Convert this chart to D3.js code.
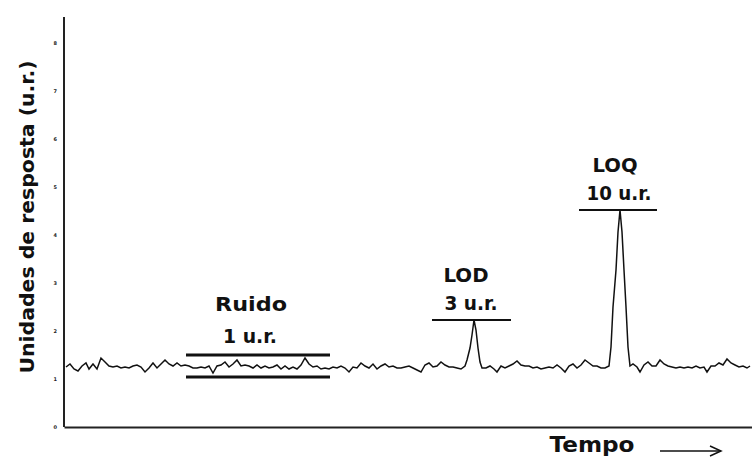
<!DOCTYPE html>
<html><head><meta charset="utf-8">
<script src="https://cdn.jsdelivr.net/npm/d3@7"></script>
<style>html,body{margin:0;padding:0;background:#fff;}svg{display:block;}</style>
</head><body>
<svg id="chart" width="752" height="459"></svg>
<script>
// ---- data (time in arbitrary units, signal in arbitrary response units) ----
const trace = [
[2,60],[6,63],[10,58],[14,56],[18,61],[22,64],[25,58],[29,63],[33,58],[37,69],[41,65],[45,61],[49,60],[53,61],[57,59],[61,60],[65,59],[69,61],[73,62],[77,60],[81,55],[85,59],[89,64],[93,59],[97,63],[101,67],[105,63],[109,61],[113,64],[117,61],[121,62],
[125,61],[129,59],[133,59],[137,60],[141,59],[145,61],[149,54],[153,61],[157,62],[161,65],[165,60],[169,63],[173,67],[177,61],[181,62],[185,61],[189,59],[193,62],[197,59],[201,61],[205,59],[209,60],[213,62],[217,58],[221,61],[225,58],[229,60],[233,58],[237,62],[241,69],[245,63],[249,60],[253,61],[257,58],[261,59],[265,58],
[269,60],[273,59],[277,61],[281,59],[285,55],[289,60],[293,59],[297,64],[301,61],[305,59],[309,63],[313,58],[317,61],[321,63],[325,60],[329,61],[333,59],[337,59],[341,60],[345,61],[349,59],[353,57],[357,55],[361,62],[365,64],[369,60],[373,61],[377,65],[381,62],[385,60],[389,60],[393,59],[397,58],[401,61],
[403,67],[406,79],[408,92],[410,107],[412,97],[414,79],[416,65],[418,59],
[422,59],[426,61],[430,58],[433,55],[437,61],[441,59],[445,61],[449,63],[453,66],[457,62],[461,61],[465,61],[469,59],[473,60],[477,58],[481,59],[485,60],[489,59],[493,62],[497,59],[501,55],[505,61],[509,63],[513,59],[517,62],[521,67],[525,64],[529,61],[533,61],[537,59],[541,59],[545,61],
[547,80],[549,120],[552,157],[554,195],[556,217],[558,195],[560,157],[562,120],[564,80],[566,61],
[569,63],[573,60],[576,55],[580,62],[584,65],[588,61],[592,61],[596,67],[600,63],[604,61],[608,60],[612,59],[616,60],[620,59],[624,60],[628,59],[632,61],[636,59],[640,60],[643,55],[647,61],[651,61],[655,64],[659,62],[663,68],[667,64],[671,62],[675,60],[679,61],[683,59],[686,61]
];
// horizontal reference bars: [tStart, tEnd, level]
const noiseBand = [[122,266,72],[122,266,50]];
const lodBar = [[368,447,107]];
const loqBar = [[515,593,217]];
// annotation texts: [text, t, s]
const annotations = [
  ["Ruido",187,116],["1 u.r.",186,84],
  ["LOD",402,145],["3 u.r.",407,117],
  ["LOQ",551,255],["10 u.r.",555,227]
];
const yTickValues = [0,48,96,144,192,240,288,336,384];
const yTickLabels = ["0","1","2","3","4","5","6","7","8"];
const yTitle = "Unidades de resposta (u.r.)";
const xTitle = "Tempo";
const annotationWidths = {"Ruido":72,"1 u.r.":54,"LOD":45,"3 u.r.":53,"LOQ":45,"10 u.r.":65};

// ---- drawing ----
const svg = d3.select("#chart");
const x = d3.scaleLinear().domain([0,688]).range([64,752]);
const y = d3.scaleLinear().domain([0,410]).range([427,17]);
const FONT = "'DejaVu Sans', Verdana, sans-serif";

// y axis
const yAxis = d3.axisLeft(y).tickValues(yTickValues).tickSize(0).tickPadding(7)
  .tickFormat((d,i)=>yTickLabels[i]);
const gy = svg.append("g").attr("transform","translate(64,0)").call(yAxis);
gy.select(".domain").remove();
gy.selectAll("text").attr("font-size",5).attr("font-family",FONT).attr("font-weight","bold").attr("fill","#222");
svg.append("line").attr("x1",x(0)).attr("x2",x(0)).attr("y1",y(410)).attr("y2",y(0))
  .attr("stroke","#222").attr("stroke-width",2);
// x axis
const xAxis = d3.axisBottom(x).tickValues([]).tickSizeOuter(0);
const gx = svg.append("g").attr("transform",`translate(0,${y(0)})`).call(xAxis);
gx.select(".domain").attr("stroke","#222").attr("stroke-width",2);

// trace
const line = d3.line().x(d=>x(d[0])).y(d=>y(d[1]));
svg.append("path").datum(trace).attr("d",line).attr("fill","none")
  .attr("stroke","#111").attr("stroke-width",1.5).attr("stroke-linejoin","miter");

// bars
function bars(data, w){
  svg.append("g").selectAll("line").data(data).join("line")
    .attr("x1",d=>x(d[0])).attr("x2",d=>x(d[1]))
    .attr("y1",d=>y(d[2])).attr("y2",d=>y(d[2]))
    .attr("stroke","#111").attr("stroke-width",w);
}
bars(noiseBand,3);
bars(lodBar,2);
bars(loqBar,2);

// annotations
svg.append("g").selectAll("text").data(annotations).join("text")
  .attr("x",d=>x(d[1])).attr("y",d=>y(d[2]))
  .attr("text-anchor","middle").attr("font-family",FONT).attr("font-weight","bold")
  .attr("font-size",19).attr("fill","#111")
  .attr("textLength",d=>annotationWidths[d[0]]).attr("lengthAdjust","spacingAndGlyphs")
  .text(d=>d[0]);

// y title
svg.append("text").attr("transform","translate(34,217) rotate(-90)")
  .attr("text-anchor","middle").attr("font-family",FONT).attr("font-weight","bold")
  .attr("font-size",20).attr("fill","#111")
  .attr("textLength",313).attr("lengthAdjust","spacingAndGlyphs").text(yTitle);

// x title + arrow
svg.append("text").attr("x",592).attr("y",452)
  .attr("text-anchor","middle").attr("font-family",FONT).attr("font-weight","bold")
  .attr("font-size",21).attr("fill","#111")
  .attr("textLength",85).attr("lengthAdjust","spacingAndGlyphs").text(xTitle);
const arrow = svg.append("g").attr("stroke","#111").attr("stroke-width",1.5).attr("fill","none");
arrow.append("line").attr("x1",660).attr("x2",721).attr("y1",451).attr("y2",451);
arrow.append("path").attr("d","M710,446 L721,451 L710,456");
</script>
</body></html>
